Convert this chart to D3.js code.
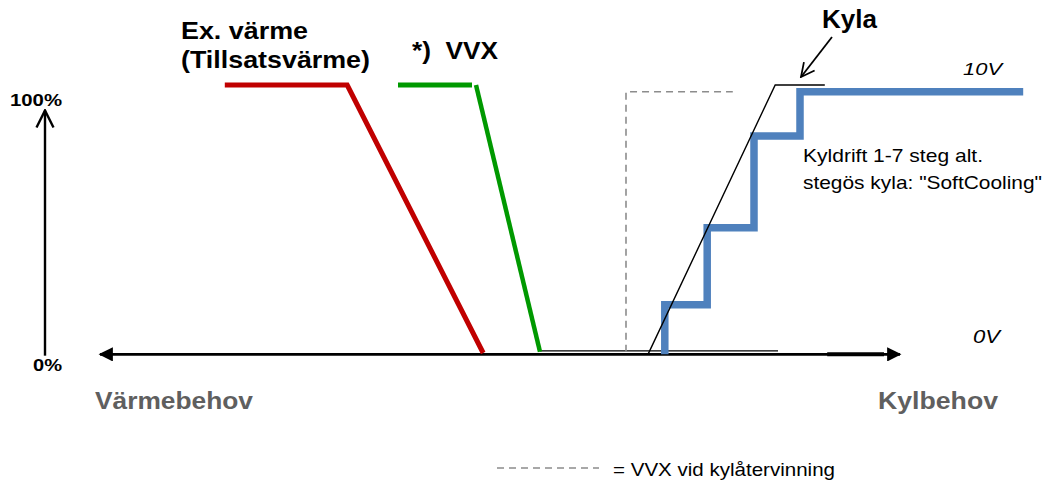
<!DOCTYPE html>
<html>
<head>
<meta charset="utf-8">
<script src="https://cdn.jsdelivr.net/npm/d3@7"></script>
<style>
  body { margin: 0; background: #fff; }
  svg { font-family: "Liberation Sans", Arial, sans-serif; }
</style>
</head>
<body>
<div id="chart"></div>
<script>
// x: behov (0 = värme, 100 = kyla), y: signal in %
const redLine = [[15.6, 100], [30.9, 100], [47.9, 0]];
const greenTop = [[37.25, 100], [46.5, 100]];
const greenSlope = [[47, 100], [55, 0.5]];
const dashedVvx = [[65.75, 0.5], [65.75, 97.5], [79.1, 97.5]];
const kylaRamp = [[68.5, -0.5], [84.4, 100], [90.6, 100]];
const baseLine = [[55, 0.8], [84.75, 0.8]];
const stepX = [70.6, 75.9, 81.75, 87.5, 115.4];
const stepY = [-0.5, 18, 46.7, 81, 97.5];
const yTicks = ['0%', '100%'];

const width = 1043, height = 481;
const x = d3.scaleLinear().domain([0, 100]).range([100, 900]);
const y = d3.scaleLinear().domain([0, 100]).range([353, 85]);

const svg = d3.select('#chart').append('svg')
  .attr('width', width).attr('height', height);

const defs = svg.append('defs');
defs.append('marker').attr('id', 'fill-arrow')
  .attr('viewBox', '0 0 10 10').attr('refX', 9).attr('refY', 5)
  .attr('markerWidth', 7).attr('markerHeight', 5.5)
  .attr('markerUnits', 'strokeWidth')
  .attr('orient', 'auto-start-reverse')
  .append('path').attr('d', 'M0,0 L10,5 L0,10 z').attr('fill', '#000');
defs.append('marker').attr('id', 'open-arrow')
  .attr('viewBox', '0 0 12 12').attr('refX', 11).attr('refY', 6)
  .attr('markerWidth', 8.5).attr('markerHeight', 8.5)
  .attr('markerUnits', 'strokeWidth')
  .attr('orient', 'auto')
  .append('path').attr('d', 'M1,1 L11,6 L1,11')
  .attr('fill', 'none').attr('stroke', '#000').attr('stroke-width', 1.4);
defs.append('marker').attr('id', 'open-arrow-sm')
  .attr('viewBox', '0 0 12 12').attr('refX', 11).attr('refY', 6)
  .attr('markerWidth', 9).attr('markerHeight', 9)
  .attr('markerUnits', 'strokeWidth')
  .attr('orient', 'auto')
  .append('path').attr('d', 'M1,1 L11,6 L1,11')
  .attr('fill', 'none').attr('stroke', '#000').attr('stroke-width', 1.3);

const line = d3.line().x(d => x(d[0])).y(d => y(d[1]));

// horizontal axis with arrows both ends
svg.append('line')
  .attr('x1', x(0)).attr('x2', x(100))
  .attr('y1', y(-0.5)).attr('y2', y(-0.5))
  .attr('stroke', '#000').attr('stroke-width', 2.6)
  .attr('marker-start', 'url(#fill-arrow)')
  .attr('marker-end', 'url(#fill-arrow)');
svg.append('line')
  .attr('x1', x(90.9)).attr('x2', x(98))
  .attr('y1', y(-0.5)).attr('y2', y(-0.5))
  .attr('stroke', '#000').attr('stroke-width', 4);

// vertical axis
svg.append('line')
  .attr('x1', 45).attr('x2', 45)
  .attr('y1', y(-1)).attr('y2', y(90.5))
  .attr('stroke', '#000').attr('stroke-width', 2.4)
  .attr('marker-end', 'url(#open-arrow)');

// stretched text helper (the original text is wider than the font)
function label(t, px, py, size, len, opts) {
  const o = opts || {};
  return svg.append('text')
    .attr('x', px).attr('y', py).attr('font-size', size)
    .attr('font-weight', o.bold ? 'bold' : null)
    .attr('font-style', o.italic ? 'italic' : null)
    .attr('fill', o.color || '#000')
    .attr('xml:space', 'preserve')
    .attr('textLength', len).attr('lengthAdjust', 'spacingAndGlyphs')
    .text(t);
}

svg.selectAll('.ytick').data(yTicks).join('text')
  .attr('class', 'ytick')
  .attr('x', (d, i) => i ? 10 : 33)
  .attr('y', (d, i) => i ? 106 : 371)
  .attr('font-size', 17).attr('font-weight', 'bold')
  .attr('textLength', (d, i) => i ? 52 : 29)
  .attr('lengthAdjust', 'spacingAndGlyphs')
  .text(d => d);

// thin base line
svg.append('path').attr('d', line(baseLine))
  .attr('fill', 'none').attr('stroke', '#000').attr('stroke-width', 1.3);

// dashed VVX (kylåtervinning)
svg.append('path').attr('d', line(dashedVvx))
  .attr('fill', 'none').attr('stroke', '#8c8c8c').attr('stroke-width', 1.6)
  .attr('stroke-dasharray', '7,5');

// red / green
svg.append('path').attr('d', line(redLine))
  .attr('fill', 'none').attr('stroke', '#c00000').attr('stroke-width', 5);
svg.append('path').attr('d', line(greenTop))
  .attr('fill', 'none').attr('stroke', '#009900').attr('stroke-width', 5);
svg.append('path').attr('d', line(greenSlope))
  .attr('fill', 'none').attr('stroke', '#009900').attr('stroke-width', 4.5);

// blue step line
const steps = [];
stepX.forEach((sx, i) => {
  steps.push([sx, stepY[i]]);
  if (i < stepY.length - 1) steps.push([sx, stepY[i + 1]]);
});
svg.append('path').attr('d', line(steps))
  .attr('fill', 'none').attr('stroke', '#4f81bd').attr('stroke-width', 7.5)
  .attr('stroke-linejoin', 'miter');

// kyla ramp
svg.append('path').attr('d', line(kylaRamp))
  .attr('fill', 'none').attr('stroke', '#000').attr('stroke-width', 1.4);

// Kyla arrow
svg.append('line')
  .attr('x1', 832).attr('y1', 37).attr('x2', 801).attr('y2', 77)
  .attr('stroke', '#000').attr('stroke-width', 1.8)
  .attr('marker-end', 'url(#open-arrow-sm)');

// labels
label('Kyla', 822, 28, 25, 55, { bold: true });
label('Ex. värme', 181, 39, 24, 127, { bold: true });
label('(Tillsatsvärme)', 181, 68, 24, 189, { bold: true });
label('*)  VVX', 412, 59, 23, 86, { bold: true });
label('Värmebehov', 95, 409, 23, 158, { bold: true, color: '#5f5f5f' });
label('Kylbehov', 878, 409, 23, 120, { bold: true, color: '#5f5f5f' });

label('10V', 963, 75, 17, 39, { italic: true });
label('0V', 973, 343, 18, 27, { italic: true });

label('Kyldrift 1-7 steg alt.', 803, 162, 19, 180);
label('stegös kyla: "SoftCooling"', 803, 189, 19, 239);

// legend
svg.append('line')
  .attr('x1', 497).attr('x2', 599).attr('y1', 468).attr('y2', 468)
  .attr('stroke', '#8c8c8c').attr('stroke-width', 1.6)
  .attr('stroke-dasharray', '7,5');
label('= VVX vid kylåtervinning', 613, 476, 19, 222);
</script>
</body>
</html>
